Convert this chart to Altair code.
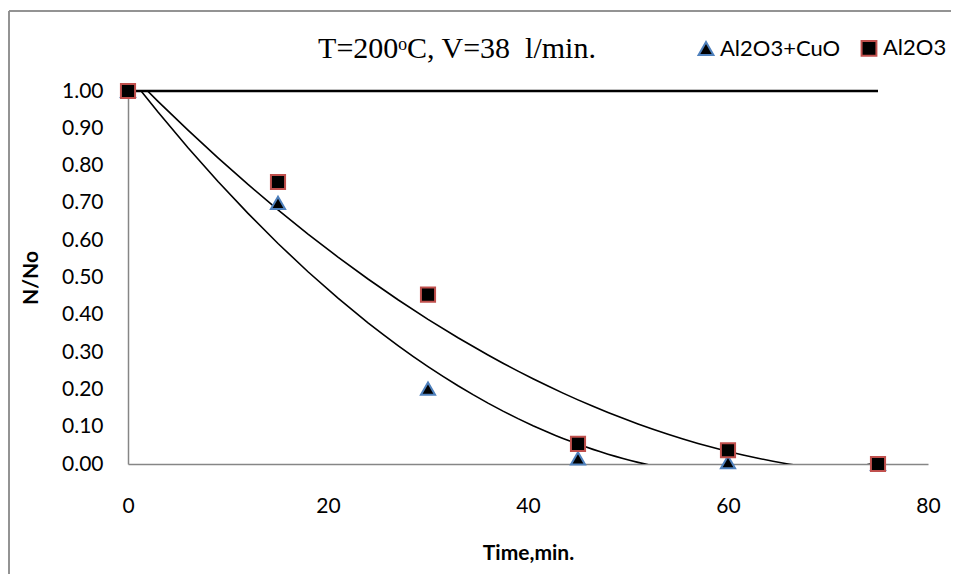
import altair as alt
import pandas as pd

# ---- data ----
time_min = [0, 15, 30, 45, 60, 75]
n_al2o3_cuo = [1.00, 0.70, 0.202, 0.015, 0.005, 0.00]
n_al2o3 = [1.00, 0.756, 0.454, 0.054, 0.037, 0.00]
series_names = ["Al2O3+CuO", "Al2O3"]
series_shapes = ["triangle-up", "square"]
series_strokes = ["#4f81bd", "#c0504d"]
ref_t = [0, 75]
ref_n = [1.0, 1.0]
y_ticks = [0.0, 0.1, 0.2, 0.3, 0.4, 0.5, 0.6, 0.7, 0.8, 0.9, 1.0]
x_ticks = [0, 20, 40, 60, 80]
chart_title = "T=200\u1d52C, V=38 \u00a0l/min."

rows = []
for name, vals in zip(series_names, [n_al2o3_cuo, n_al2o3]):
    for t, n in zip(time_min, vals):
        rows.append({"t": t, "n": n, "series": name})
df = pd.DataFrame(rows)
ref_df = pd.DataFrame({"t": ref_t, "n": ref_n})
title_df = pd.DataFrame({"label": [chart_title]})

W, H = 800, 373
PAD_L, PAD_T = 120, 83

xs = alt.Scale(domain=[0, 80], nice=False)
ys = alt.Scale(domain=[0, 1], nice=False)

x_axis = alt.Axis(values=x_ticks, title="Time,min.", labelPadding=31, titlePadding=26,
                  labelFlush=False, labelOverlap=False)
y_axis = alt.Axis(values=y_ticks, format=".2f", title="N/No", labelPadding=25,
                  titlePadding=20, labelOverlap=False, labelFlush=False)

X = alt.X("t:Q", scale=xs, axis=x_axis)
Y = alt.Y("n:Q", scale=ys, axis=y_axis)

base = alt.Chart(df)

trend = base.transform_regression(
    "t", "n", groupby=["series"], method="poly", order=2, extent=[0, 75]
).mark_line(clip=True, color="black", strokeWidth=1.6).encode(
    x=X, y=Y, detail="series:N",
)

ref_line = alt.Chart(ref_df).mark_line(color="black", strokeWidth=2.6).encode(x=X, y=Y)

legend = alt.Legend(
    title=None, orient="none", legendX=567, legendY=-54, direction="horizontal",
    symbolFillColor="black", symbolStrokeWidth=2, symbolSize=220,
    labelFont="Lato", labelFontSize=22, labelColor="black", labelOffset=3,
    columnPadding=16, symbolOffset=0,
)

points = base.mark_point(filled=True, fill="black", strokeWidth=2, opacity=1, size=200).encode(
    x=X, y=Y,
    shape=alt.Shape("series:N", scale=alt.Scale(domain=series_names, range=series_shapes),
                    legend=legend),
    stroke=alt.Stroke("series:N", scale=alt.Scale(domain=series_names, range=series_strokes),
                      legend=legend),
)

title_mark = alt.Chart(title_df).mark_text(
    font="Liberation Serif", fontSize=30, color="black", align="center", baseline="middle"
).encode(text="label:N", x=alt.value(329), y=alt.value(-42))

# outer chart frame (only top and left edges are visible in the reference)
frame_top = alt.Chart(ref_df).mark_rule(color="#8c8c8c", strokeWidth=1.5, clip=False).encode(
    x=alt.value(-119), x2=alt.value(830), y=alt.value(-80)
)
frame_left = alt.Chart(ref_df).mark_rule(color="#8c8c8c", strokeWidth=1.5, clip=False).encode(
    x=alt.value(-119), y=alt.value(-80), y2=alt.value(490)
)

chart = alt.layer(frame_top, frame_left, trend, ref_line, points, title_mark).properties(
    width=W, height=H,
    autosize=alt.AutoSizeParams(type="none"),
    padding={"left": PAD_L, "top": PAD_T, "right": 23, "bottom": 110},
    background="white",
).configure_view(stroke=None).configure_axis(
    labelFont="Lato", labelFontSize=21, labelColor="black",
    titleFont="Lato", titleFontSize=21, titleFontWeight="bold", titleColor="black",
    domainColor="#868686", domainWidth=1.5, ticks=False, grid=False,
    labelOverlap=False, labelFlush=False,
)

chart.save("out.html", embed_options={"renderer": "svg", "actions": False})
